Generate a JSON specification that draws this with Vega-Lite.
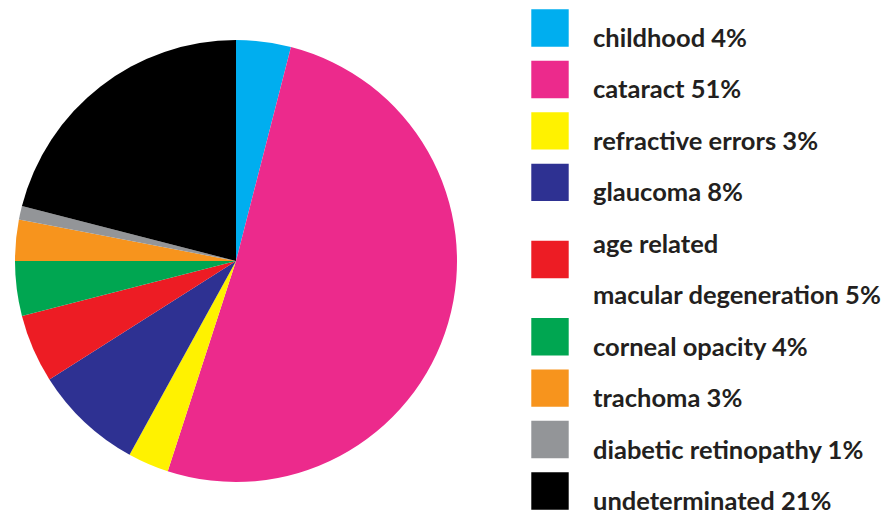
{
  "$schema": "https://vega.github.io/schema/vega-lite/v6.json",
  "autosize": {"type": "none"},
  "padding": {"left": 0, "top": 8, "right": 0, "bottom": 0},
  "width": 886,
  "height": 506,
  "background": "white",
  "config": {"view": {"stroke": null}},
  "datasets": {
    "causes": [
      {"rank": 1, "item": "childhood", "percent": 4},
      {"rank": 2, "item": "cataract", "percent": 51},
      {"rank": 3, "item": "refractive errors", "percent": 3},
      {"rank": 4, "item": "glaucoma", "percent": 8},
      {"rank": 5, "item": "age related macular degeneration", "percent": 5},
      {"rank": 6, "item": "corneal opacity", "percent": 4},
      {"rank": 7, "item": "trachoma", "percent": 3},
      {"rank": 8, "item": "diabetic retinopathy", "percent": 1},
      {"rank": 9, "item": "undeterminated", "percent": 21}
    ],
    "lines": [
      {"item": "childhood", "line": 1, "text": "childhood 4%"},
      {"item": "cataract", "line": 2, "text": "cataract 51%"},
      {"item": "refractive errors", "line": 3, "text": "refractive errors 3%"},
      {"item": "glaucoma", "line": 4, "text": "glaucoma 8%"},
      {"item": "age related macular degeneration", "line": 5, "text": "age related"},
      {"item": "age related macular degeneration", "line": 6, "text": "macular degeneration 5%"},
      {"item": "corneal opacity", "line": 7, "text": "corneal opacity 4%"},
      {"item": "trachoma", "line": 8, "text": "trachoma 3%"},
      {"item": "diabetic retinopathy", "line": 9, "text": "diabetic retinopathy 1%"},
      {"item": "undeterminated", "line": 10, "text": "undeterminated 21%"}
    ]
  },
  "layer": [
    {
      "data": {"name": "causes"},
      "mark": {"type": "arc", "outerRadius": 221, "stroke": null},
      "encoding": {
        "x": {"datum": 0, "type": "quantitative", "axis": null,
              "scale": {"domain": [0, 1, 2], "range": [236, 550, 593], "nice": false, "zero": false}},
        "theta": {"field": "percent", "type": "quantitative", "stack": true},
        "order": {"field": "rank", "type": "quantitative", "sort": "ascending"},
        "color": {
          "field": "item",
          "type": "nominal",
          "legend": null,
          "scale": {
            "domain": ["childhood", "cataract", "refractive errors", "glaucoma", "age related macular degeneration", "corneal opacity", "trachoma", "diabetic retinopathy", "undeterminated"],
            "range": ["#00AEEF", "#EC2A8C", "#FFF200", "#2E3192", "#ED1C24", "#00A651", "#F7941D", "#939598", "#000000"]
          }
        }
      }
    },
    {
      "data": {"name": "lines"},
      "transform": [
        {"aggregate": [{"op": "mean", "field": "line", "as": "line"}], "groupby": ["item"]}
      ],
      "mark": {"type": "point", "shape": "square", "filled": true, "size": 1400, "opacity": 1, "strokeWidth": 0},
      "encoding": {
        "x": {"datum": 1, "type": "quantitative"},
        "y": {"field": "line", "type": "quantitative", "axis": null,
              "scale": {"domain": [1, 10], "range": [20, 483], "nice": false, "zero": false}},
        "color": {"field": "item", "type": "nominal", "legend": null}
      }
    },
    {
      "data": {"name": "lines"},
      "mark": {"type": "text", "align": "left", "baseline": "alphabetic", "dy": 19,
               "font": "Lato", "fontWeight": "bold", "fontSize": 25.5, "color": "#231F20"},
      "encoding": {
        "x": {"datum": 2, "type": "quantitative"},
        "y": {"field": "line", "type": "quantitative"},
        "text": {"field": "text", "type": "nominal"}
      }
    }
  ]
}
